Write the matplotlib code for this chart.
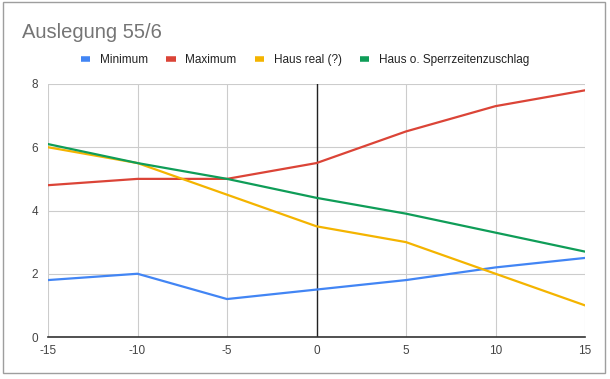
import matplotlib.pyplot as plt
from matplotlib.patches import Rectangle
from matplotlib.lines import Line2D

plt.rcParams['font.family'] = ['Liberation Sans', 'DejaVu Sans']
plt.rcParams['axes.unicode_minus'] = False

# data
temps = [-15, -10, -5, 0, 5, 10, 15]
minimum = [1.8, 2.0, 1.2, 1.5, 1.8, 2.2, 2.5]
maximum = [4.8, 5.0, 5.0, 5.5, 6.5, 7.3, 7.8]
haus_real = [6.0, 5.5, 4.5, 3.5, 3.0, 2.0, 1.0]
haus_ohne = [6.1, 5.5, 5.0, 4.4, 3.9, 3.3, 2.7]

series = [
    ('Minimum', minimum, '#4285F4'),
    ('Maximum', maximum, '#DB4437'),
    ('Haus real (?)', haus_real, '#F4B400'),
    ('Haus o. Sperrzeitenzuschlag', haus_ohne, '#0F9D58'),
]

fig = plt.figure(figsize=(6.1, 3.79), dpi=100)
ax = fig.add_axes([48 / 610, 1 - 337 / 379, (585 - 48) / 610, (337 - 84) / 379])

# chart frame like in the spreadsheet
fig.patches.append(Rectangle((3 / 610, 1 - 373 / 379), 602 / 610, 371 / 379,
                             transform=fig.transFigure, fill=False,
                             edgecolor='#9e9e9e', linewidth=1))

for name, vals, col in series:
    ax.plot(temps, vals, color=col, linewidth=1.6, label=name, zorder=3)

ax.set_xlim(-15, 15)
ax.set_ylim(0, 8)
ax.set_xticks([-15, -10, -5, 0, 5, 10, 15])
ax.set_yticks([0, 2, 4, 6, 8])
ax.grid(True, color='#cccccc', linewidth=0.8)
ax.set_axisbelow(True)
for s in ['left', 'right', 'top']:
    ax.spines[s].set_visible(False)
ax.spines['bottom'].set_color('#333333')
ax.spines['bottom'].set_linewidth(1.2)
ax.axvline(0, color='#222222', linewidth=1, zorder=2)
ax.tick_params(length=0, labelsize=8.5, colors='#444444', pad=6)
ax.tick_params(axis='y', pad=7)

fig.text(22 / 610, 1 - 32 / 379, 'Auslegung 55/6', fontsize=14.5,
         color='#757575', va='center')

handles = [Line2D([], [], color=c, linewidth=4, solid_capstyle='butt') for _, _, c in series]
fig.legend(handles, [n for n, _, _ in series], loc='center',
           bbox_to_anchor=(0.5, 1 - 60 / 379), ncol=4, frameon=False,
           fontsize=8.5, handlelength=0.8, handletextpad=0.8, columnspacing=1.55,
           labelcolor='#222222')

fig.savefig('out.png', dpi=100)
